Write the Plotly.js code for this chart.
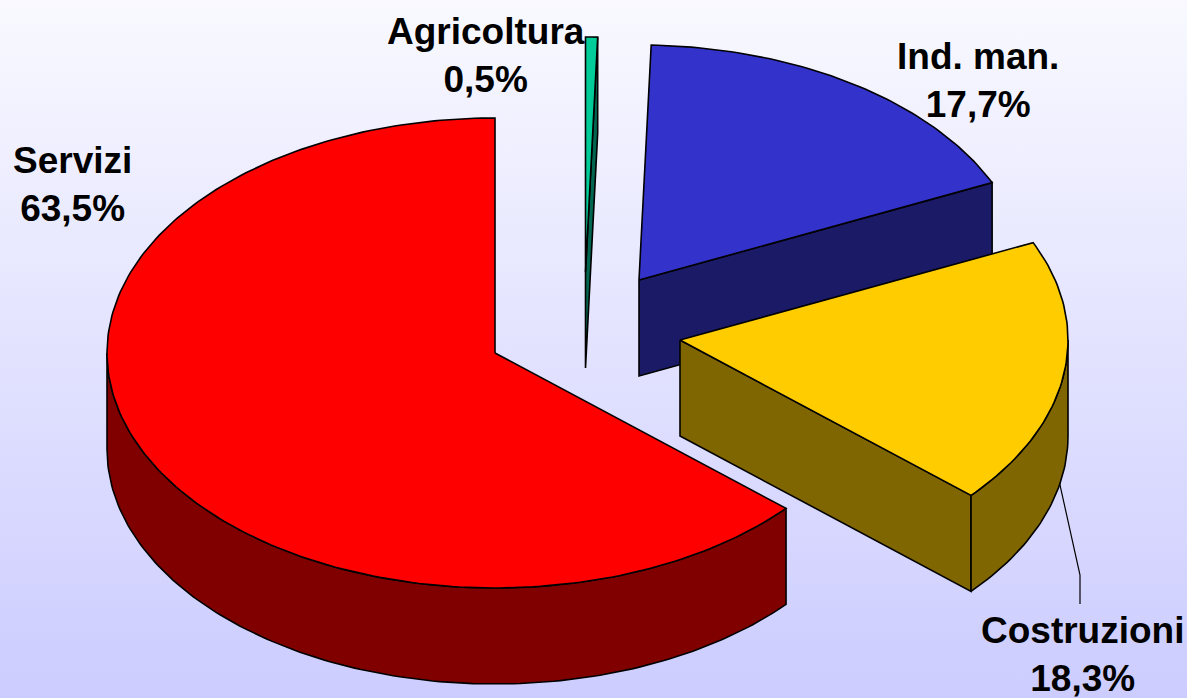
<!DOCTYPE html>
<html><head><meta charset="utf-8">
<script src="https://cdn.plot.ly/plotly-3.0.1.min.js"></script>
<style>html,body{margin:0;padding:0;width:1187px;height:698px;overflow:hidden;background:linear-gradient(to bottom,#f9f9ff 0%,#ccccff 100%)}#c{width:1187px;height:698px}</style>
</head><body><div id="c"></div>
<script>
// Data
const categories = ["Servizi","Agricoltura","Ind. man.","Costruzioni"];
const shares = [63.5,0.5,17.7,18.3];
const topColors = ["#ff0000","#00cc99","#3333cc","#ffcc00"];
const sideColors = ["#800000","#006650","#1a1a66","#806600"];
// Pie projection
const RX=388, RY=235, DEPTH=96;
const centers = [[495,353],[585.5,272],[639,280],[680,340]];
const labelPos = [[72,184],[486,55],[978,80],[1082,654]];
const D2R=Math.PI/180;

// slice angles: clockwise from 12 o'clock; Servizi ends at the top going counter-clockwise
const ang=[]; {
  let a0=-shares[0]*3.6; ang[0]=[a0,0];
  let s=0; for(let i=1;i<shares.length;i++){ang[i]=[s,s+shares[i]*3.6]; s+=shares[i]*3.6;}
}
const px=(c,a,dz=0)=>[c[0]+RX*Math.sin(a*D2R), c[1]-RY*Math.cos(a*D2R)+dz];
function arc(c,a,b,dz=0){const n=Math.max(2,Math.ceil(Math.abs(b-a)));const o=[];for(let k=0;k<=n;k++)o.push(px(c,a+(b-a)*k/n,dz));return o;}
function poly(points,fill){return {type:'scatter',mode:'lines',x:points.map(p=>p[0]),y:points.map(p=>p[1]),
  fill:'toself',fillcolor:fill,line:{color:'#000',width:1.6,shape:'linear'},hoverinfo:'skip',showlegend:false};}

const traces=[];
function slice(i){
  const c=centers[i],[a,b]=ang[i];
  // radial wall on the clockwise-end edge, when it faces the viewer
  if(i>0 && b<180 && i!==3 || i===3){
    const end=(i===3)?b:b, e=px(c,end);
    traces.push(poly([c,e,[e[0],e[1]+DEPTH],[c[0],c[1]+DEPTH],c],sideColors[i]));
  }
  // outer wall: visible between 90 and 270 degrees
  let lo=Math.max(a,-270+0), hi=b;
  if(i===0){lo=a;hi=-90;} else if(i===3){lo=Math.max(a,90);hi=b;} else {lo=hi=null;}
  if(lo!==null && hi>lo){
    const top=arc(c,lo,hi), bot=arc(c,hi,lo,DEPTH);
    traces.push(poly(top.concat(bot,[top[0]]),sideColors[i]));
  }
  // top face
  const t=arc(c,a,b);
  traces.push(poly([c].concat(t,[c]),topColors[i]));
}
[2,1,3,0].forEach(slice);

// leader line for Costruzioni, from the rim to its label
const rim=px(centers[3],102,DEPTH-2);
traces.push({type:'scatter',mode:'lines',x:[rim[0],1080,1080],y:[rim[1],575,604],line:{color:'#000',width:1.2},hoverinfo:'skip',showlegend:false});

const annotations=categories.map((n,i)=>({x:labelPos[i][0],y:labelPos[i][1],xref:'x',yref:'y',showarrow:false,
  xanchor:'center',yanchor:'middle',align:'center',
  text:'<b>'+n+'</b><br><b>'+shares[i].toFixed(1).replace('.',',')+'%</b>',
  font:{family:'"Liberation Sans",Arial,sans-serif',size:37,color:'#000'}}));

Plotly.newPlot('c',traces,{
  width:1187,height:698,margin:{l:0,r:0,t:0,b:0},
  paper_bgcolor:'rgba(0,0,0,0)',plot_bgcolor:'rgba(0,0,0,0)',showlegend:false,
  xaxis:{range:[0,1187],visible:false,fixedrange:true},
  yaxis:{range:[698,0],visible:false,fixedrange:true},
  annotations
},{displayModeBar:false,staticPlot:true});
</script></body></html>
